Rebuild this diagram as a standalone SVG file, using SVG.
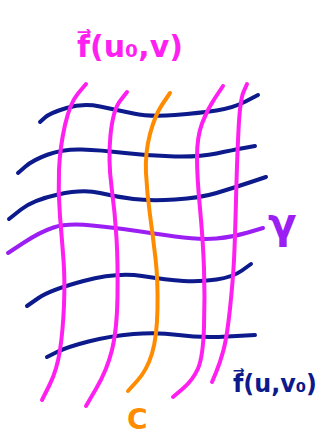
<svg xmlns="http://www.w3.org/2000/svg" width="323" height="437" viewBox="0 0 323 437">
<style>
.s{fill:none;stroke-width:4;stroke-linecap:round;stroke-linejoin:round}
.b{stroke:#0c1a8c}
.m{stroke:#ff1ff0}
.o{stroke:#ff8c00}
.p{stroke:#9b1ff2}
.t{font-family:"DejaVu Sans",sans-serif;font-weight:bold}
</style>
<rect width="323" height="437" fill="#fff"/>
<g id="v-curves">
<path class="s b" d="M40 122 L45 117.5 Q50 113 66.5 108 Q83 103 100 106.5 Q117 110 133.5 113.5 Q150 117 175 115 Q200 113 216.5 110.5 Q233 108 245.5 101.5 L258 95"/>
<path class="s b" d="M18 173 L25.5 166.5 Q33 160 48 154.5 Q63 149 81.5 149.5 Q100 150 125 153 Q150 156 175 156.5 Q200 157 216.5 153.5 Q233 150 244 148 L255 146"/>
<path class="s b" d="M9 219 L21 209.5 Q33 200 58 194.5 Q83 189 100 193 Q117 197 133.5 199 Q150 201 175 199.5 Q200 198 216.5 193 Q233 188 249.5 182.5 L266 177"/>
<path class="s b" d="M27 306 L38.5 298 Q50 290 83.5 281 Q117 272 142 276 Q167 280 183.5 281 Q200 282 216.5 279.5 Q233 277 242 270.5 L251 264"/>
<path class="s b" d="M47 357 L57 352 Q67 347 88.5 341.5 Q110 336 133.5 334 Q157 332 178.5 335 Q200 338 227.5 336.5 L255 335"/>
<path id="gamma" class="s p" d="M8 253 L24 242.5 Q40 232 53.5 227.5 Q67 223 92 225.5 Q117 228 133.5 230.5 Q150 233 175 236.5 Q200 240 216.5 238.5 Q233 237 248 232.5 L263 228"/>
</g>
<g id="u-curves">
<path class="s m" d="M86 84 L78 93.5 Q70 103 65 125 Q60 147 59 170 Q58 193 60 216.5 Q62 240 63.5 260 Q65 280 64 305 Q63 330 60 350 Q57 370 49.5 385 L42 400"/>
<path class="s m" d="M127 92 L120 101 Q113 110 110.5 135 Q108 160 111.5 186.5 Q115 213 116.5 238 Q118 263 117.5 296.5 Q117 330 112 350 Q107 370 96.5 388 L86 406"/>
<path id="C" class="s o" d="M170 93 L162.5 104 Q155 115 150 134 Q145 153 146 173 Q147 193 150 215 Q153 237 155.5 258.5 Q158 280 157.5 308.5 Q157 337 152 353.5 Q147 370 137.5 380.5 L128 391"/>
<path class="s m" d="M223 86 L215 98 Q207 110 202 123.5 Q197 137 197 157 Q197 177 200 208.5 Q203 240 204 268.5 Q205 297 204 327 Q203 357 198 368.5 Q193 380 183 388.5 L173 397"/>
<path class="s m" d="M247 84 L243.5 92 Q240 100 238.5 130 Q237 160 236 200 Q235 240 234 260 Q233 280 230 308.5 Q227 337 223.5 350 Q220 363 216 372.5 L212 382"/>
</g>
<g id="labels">
<text class="t" x="77" y="57" font-size="30" fill="#ff1ff0">f⃗(u₀,v)</text>
<text class="t" x="268" y="238" font-size="42" fill="#9b1ff2" font-weight="normal">γ</text>
<text class="t" x="233" y="392" font-size="25" fill="#0c1a8c" textLength="84" lengthAdjust="spacingAndGlyphs">f⃗(u,v₀)</text>
<text class="t" x="127" y="429" font-size="28" fill="#ff8c00" font-weight="normal">C</text>
</g>
</svg>
